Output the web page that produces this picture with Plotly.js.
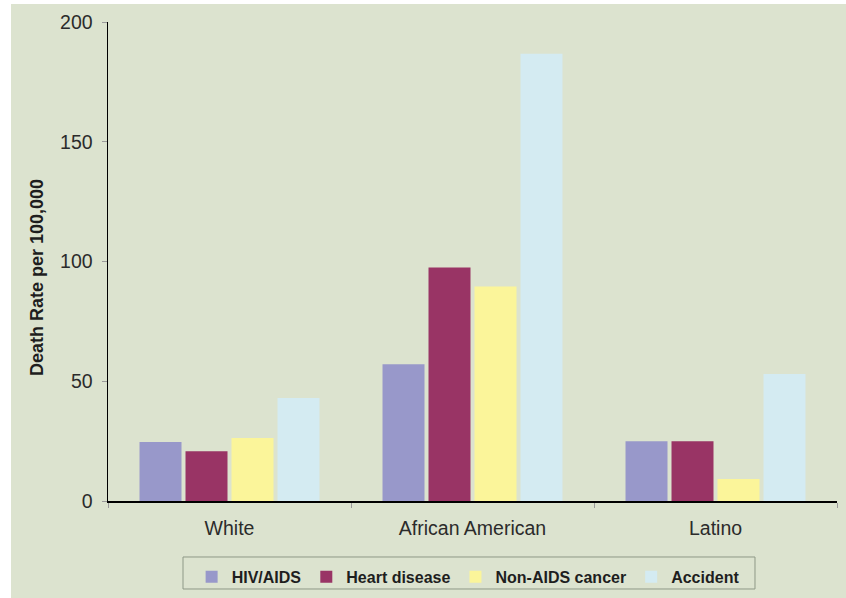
<!DOCTYPE html>
<html>
<head>
<meta charset="utf-8">
<script src="https://cdn.plot.ly/plotly-3.0.1.min.js"></script>
<style>
  html, body { margin: 0; padding: 0; background: #ffffff; }
  #panel { position: absolute; left: 11px; top: 4px; width: 835px; height: 594px; background: #dce3cf; }
  #chart { position: absolute; left: 0; top: 0; width: 846px; height: 598px; }
</style>
</head>
<body>
<div id="panel"></div>
<div id="chart"></div>
<script>
// Death rate per 100,000 by cause and race/ethnicity
const groups = ["White", "African American", "Latino"];
const causes = ["HIV/AIDS", "Heart disease", "Non-AIDS cancer", "Accident"];
const hivAids = [24.6, 57.1, 25.0];
const heartDisease = [20.8, 97.5, 25.0];
const nonAidsCancer = [26.3, 89.6, 9.2];
const accident = [43.0, 186.7, 53.0];
const yTicks = [0, 50, 100, 150, 200];
const yTitle = "Death Rate per 100,000";

const seriesValues = [hivAids, heartDisease, nonAidsCancer, accident];
const seriesColors = ["#9898ca", "#993465", "#fbf59a", "#d4ebf2"];

const traces = causes.map((name, i) => ({
  type: "bar",
  name: name,
  x: groups,
  y: seriesValues[i],
  marker: { color: seriesColors[i] },
  hoverinfo: "skip"
}));

const layout = {
  width: 846,
  height: 598,
  margin: { l: 108, r: 9, t: 22, b: 97, autoexpand: false },
  paper_bgcolor: "rgba(0,0,0,0)",
  plot_bgcolor: "rgba(0,0,0,0)",
  barmode: "group",
  bargap: 0.243,
  bargroupgap: 0.087,
  showlegend: true,
  font: { family: "Liberation Sans, Arial, sans-serif", color: "#333333" },
  xaxis: {
    type: "category",
    showline: true,
    linecolor: "#000000",
    linewidth: 1.5,
    ticks: "outside",
    tickson: "boundaries",
    ticklen: 5,
    tickcolor: "#9a9a9a",
    ticklabelstandoff: 9,
    tickfont: { size: 19.5, color: "#2b2b2b" },
    showgrid: false,
    zeroline: false,
    fixedrange: true
  },
  yaxis: {
    range: [0, 200],
    tickvals: yTicks,
    ticktext: yTicks.map(String),
    showline: true,
    linecolor: "#000000",
    linewidth: 1.5,
    ticks: "outside",
    ticklen: 5,
    tickcolor: "#9a9a9a",
    ticklabelstandoff: 5,
    tickfont: { size: 19.5, color: "#2b2b2b" },
    showgrid: false,
    zeroline: false,
    fixedrange: true
  },
  // rotated axis caption, set a little below the axis midpoint
  annotations: [{
    text: "<b>" + yTitle + "</b>",
    xref: "paper", yref: "paper",
    x: -0.0974, y: 0.4676,
    xanchor: "center", yanchor: "middle",
    textangle: -90,
    showarrow: false,
    font: { size: 18, color: "#1e1e1e" }
  }],
  // frame around the legend row
  shapes: [{
    type: "rect",
    xref: "paper", yref: "paper",
    x0: 0.1029, x1: 0.8875,
    y0: -0.1169, y1: -0.1837,
    line: { color: "#8e9987", width: 1 },
    fillcolor: "rgba(0,0,0,0)",
    layer: "above"
  }],
  legend: {
    orientation: "h",
    x: 0.494,
    xanchor: "center",
    y: -0.123,
    yanchor: "top",
    bgcolor: "rgba(0,0,0,0)",
    borderwidth: 0,
    font: { size: 16, color: "#1e1e1e", weight: "bold" },
    traceorder: "normal"
  }
};

Plotly.newPlot("chart", traces, layout, { staticPlot: true, displayModeBar: false });
</script>
</body>
</html>
